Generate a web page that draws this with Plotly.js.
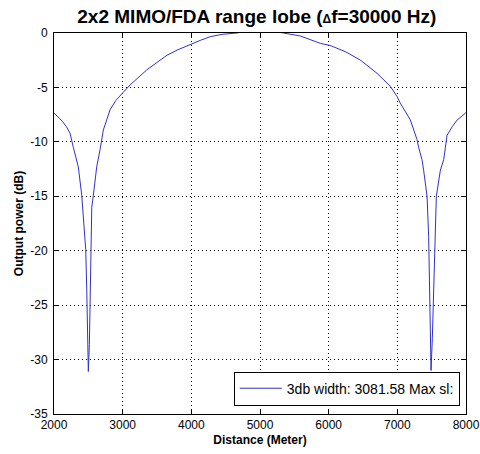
<!DOCTYPE html>
<html>
<head>
<meta charset="utf-8">
<script src="https://cdn.plot.ly/plotly-3.0.1.min.js"></script>
<style>html,body{margin:0;padding:0;background:#fff;}#chart{width:480px;height:454px;}</style>
</head>
<body>
<div id="chart"></div>
<script>
var distance = [2000, 2120, 2180, 2233, 2281, 2331, 2354, 2404, 2442, 2462, 2477, 2486, 2500, 2515, 2525, 2535, 2550, 2573, 2622, 2671, 2719, 2816, 2900, 3001, 3108, 3351, 3545, 3643, 3800, 3982, 4130, 4274, 4450, 4663, 4830, 5000, 5170, 5343, 5586, 5877, 6023, 6242, 6460, 6704, 6898, 6996, 7044, 7189, 7287, 7310, 7360, 7383, 7433, 7456, 7471, 7481, 7491, 7510, 7529, 7544, 7568, 7627, 7675, 7700, 7724, 7800, 7870, 7991, 8000];
var power = [-7.35, -8.1, -8.6, -9.2, -10.5, -11.65, -12.3, -14.9, -18.1, -19.9, -23.6, -28.0, -31.1, -28.6, -23.6, -18.8, -16.0, -14.9, -12.3, -10.7, -8.9, -7.06, -6.2, -5.5, -4.77, -3.39, -2.45, -2.05, -1.55, -1.05, -0.68, -0.34, -0.12, 0.0, 0.2, 0.3, 0.2, 0.0, -0.27, -0.95, -1.15, -1.71, -2.48, -3.7, -4.9, -5.84, -6.45, -7.98, -9.8, -10.5, -11.65, -12.6, -15.0, -18.7, -23.6, -28.0, -31.0, -28.0, -23.6, -19.0, -15.0, -12.6, -11.65, -10.5, -9.4, -8.6, -8.0, -7.37, -7.3];
var xTicks = [2000, 3000, 4000, 5000, 6000, 7000, 8000];
var yTicks = [0, -5, -10, -15, -20, -25, -30, -35];
var seriesName = '3db width: 3081.58 Max sl:';

var font = 'Arial, "Liberation Sans", sans-serif';
var axisCommon = {
  showline: true, linecolor: '#000', linewidth: 1, mirror: 'ticks',
  ticks: 'inside', ticklen: 5, tickcolor: '#000', tickwidth: 1,
  showgrid: true, gridcolor: '#000', gridwidth: 1, griddash: '1px,3px',
  zeroline: false, tickfont: {family: font, size: 12, color: '#000'}
};
var layout = {
  width: 480, height: 454,
  margin: {l: 54, r: 14, t: 33, b: 40},
  paper_bgcolor: '#fff', plot_bgcolor: '#fff',
  font: {family: font, color: '#000'},
  title: {text: '<b>2x2 MIMO/FDA range lobe (<span style="font-size:12px">Δ</span>f=30000 Hz)</b>', font: {family: font, size: 19, color: '#000'}, x: 0.535, xanchor: 'center', y: 0.963, yanchor: 'middle'},
  xaxis: Object.assign({}, axisCommon, {range: [2000, 8000], tickvals: xTicks, ticktext: xTicks.map(String),
    title: {text: '<b>Distance (Meter)</b>', font: {family: font, size: 12, color: '#000'}, standoff: 4}}),
  yaxis: Object.assign({}, axisCommon, {range: [-35, 0], tickvals: yTicks, ticktext: yTicks.map(String), ticklabelstandoff: 3,
    title: {text: '<b>Output power (dB)</b>', font: {family: font, size: 12, color: '#000'}, standoff: 4}}),
  showlegend: true,
  legend: {x: 0.985, y: 0.022, xanchor: 'right', yanchor: 'bottom', bgcolor: '#fff', bordercolor: '#000', borderwidth: 1,
    font: {family: font, size: 14, color: '#000'}, tracegroupgap: 0, itemwidth: 42}
};
var trace = {x: distance, y: power, type: 'scatter', mode: 'lines', name: seriesName,
  line: {color: '#3030d0', width: 1}, cliponaxis: true};
Plotly.newPlot('chart', [trace], layout, {displayModeBar: false, staticPlot: true});
</script>
</body>
</html>
